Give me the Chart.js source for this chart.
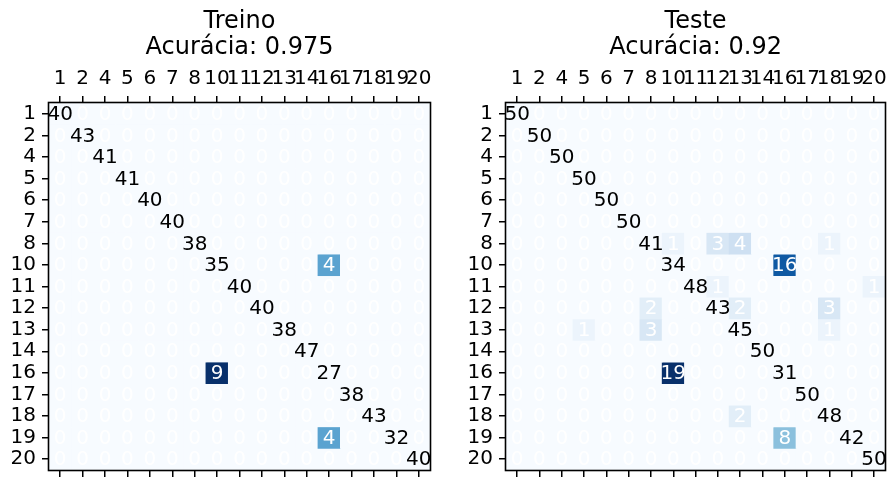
<!DOCTYPE html>
<html>
<head>
<meta charset="utf-8">
<script src="https://cdn.jsdelivr.net/npm/chart.js@4"></script>
<style>
  body { margin: 0; background: #fff; }
  #wrap { position: relative; width: 892px; height: 488px; }
  canvas { position: absolute; top: 0; }
  #treino-chart { left: 0; }
  #teste-chart { left: 446px; }
</style>
</head>
<body>
<div id="wrap">
  <canvas id="treino-chart" width="446" height="488"></canvas>
  <canvas id="teste-chart" width="446" height="488"></canvas>
</div>
<script>
const classes = ["1", "2", "4", "5", "6", "7", "8", "10", "11", "12", "13", "14", "16", "17", "18", "19", "20"];

// rows = true class, columns = predicted class
const treinoMatrix = [
  [40, 0, 0, 0, 0, 0, 0, 0, 0, 0, 0, 0, 0, 0, 0, 0, 0],
  [0, 43, 0, 0, 0, 0, 0, 0, 0, 0, 0, 0, 0, 0, 0, 0, 0],
  [0, 0, 41, 0, 0, 0, 0, 0, 0, 0, 0, 0, 0, 0, 0, 0, 0],
  [0, 0, 0, 41, 0, 0, 0, 0, 0, 0, 0, 0, 0, 0, 0, 0, 0],
  [0, 0, 0, 0, 40, 0, 0, 0, 0, 0, 0, 0, 0, 0, 0, 0, 0],
  [0, 0, 0, 0, 0, 40, 0, 0, 0, 0, 0, 0, 0, 0, 0, 0, 0],
  [0, 0, 0, 0, 0, 0, 38, 0, 0, 0, 0, 0, 0, 0, 0, 0, 0],
  [0, 0, 0, 0, 0, 0, 0, 35, 0, 0, 0, 0, 4, 0, 0, 0, 0],
  [0, 0, 0, 0, 0, 0, 0, 0, 40, 0, 0, 0, 0, 0, 0, 0, 0],
  [0, 0, 0, 0, 0, 0, 0, 0, 0, 40, 0, 0, 0, 0, 0, 0, 0],
  [0, 0, 0, 0, 0, 0, 0, 0, 0, 0, 38, 0, 0, 0, 0, 0, 0],
  [0, 0, 0, 0, 0, 0, 0, 0, 0, 0, 0, 47, 0, 0, 0, 0, 0],
  [0, 0, 0, 0, 0, 0, 0, 9, 0, 0, 0, 0, 27, 0, 0, 0, 0],
  [0, 0, 0, 0, 0, 0, 0, 0, 0, 0, 0, 0, 0, 38, 0, 0, 0],
  [0, 0, 0, 0, 0, 0, 0, 0, 0, 0, 0, 0, 0, 0, 43, 0, 0],
  [0, 0, 0, 0, 0, 0, 0, 0, 0, 0, 0, 0, 4, 0, 0, 32, 0],
  [0, 0, 0, 0, 0, 0, 0, 0, 0, 0, 0, 0, 0, 0, 0, 0, 40]
];

const testeMatrix = [
  [50, 0, 0, 0, 0, 0, 0, 0, 0, 0, 0, 0, 0, 0, 0, 0, 0],
  [0, 50, 0, 0, 0, 0, 0, 0, 0, 0, 0, 0, 0, 0, 0, 0, 0],
  [0, 0, 50, 0, 0, 0, 0, 0, 0, 0, 0, 0, 0, 0, 0, 0, 0],
  [0, 0, 0, 50, 0, 0, 0, 0, 0, 0, 0, 0, 0, 0, 0, 0, 0],
  [0, 0, 0, 0, 50, 0, 0, 0, 0, 0, 0, 0, 0, 0, 0, 0, 0],
  [0, 0, 0, 0, 0, 50, 0, 0, 0, 0, 0, 0, 0, 0, 0, 0, 0],
  [0, 0, 0, 0, 0, 0, 41, 1, 0, 3, 4, 0, 0, 0, 1, 0, 0],
  [0, 0, 0, 0, 0, 0, 0, 34, 0, 0, 0, 0, 16, 0, 0, 0, 0],
  [0, 0, 0, 0, 0, 0, 0, 0, 48, 1, 0, 0, 0, 0, 0, 0, 1],
  [0, 0, 0, 0, 0, 0, 2, 0, 0, 43, 2, 0, 0, 0, 3, 0, 0],
  [0, 0, 0, 1, 0, 0, 3, 0, 0, 0, 45, 0, 0, 0, 1, 0, 0],
  [0, 0, 0, 0, 0, 0, 0, 0, 0, 0, 0, 50, 0, 0, 0, 0, 0],
  [0, 0, 0, 0, 0, 0, 0, 19, 0, 0, 0, 0, 31, 0, 0, 0, 0],
  [0, 0, 0, 0, 0, 0, 0, 0, 0, 0, 0, 0, 0, 50, 0, 0, 0],
  [0, 0, 0, 0, 0, 0, 0, 0, 0, 0, 2, 0, 0, 0, 48, 0, 0],
  [0, 0, 0, 0, 0, 0, 0, 0, 0, 0, 0, 0, 8, 0, 0, 42, 0],
  [0, 0, 0, 0, 0, 0, 0, 0, 0, 0, 0, 0, 0, 0, 0, 0, 50]
];

Chart.defaults.font.family = "'DejaVu Sans', sans-serif";
Chart.defaults.color = "#000";

// matplotlib "Blues"
const bluesStops = ["#f7fbff", "#deebf7", "#c6dbef", "#9ecae1", "#6baed6", "#4292c6", "#2171b5", "#08519c", "#08306b"];

function hexToRgb(h) {
  return [parseInt(h.slice(1, 3), 16), parseInt(h.slice(3, 5), 16), parseInt(h.slice(5, 7), 16)];
}

function blues(t) {
  t = Math.max(0, Math.min(1, t));
  const pos = t * (bluesStops.length - 1);
  const i = Math.min(Math.floor(pos), bluesStops.length - 2);
  const f = pos - i;
  const a = hexToRgb(bluesStops[i]);
  const b = hexToRgb(bluesStops[i + 1]);
  const c = a.map((v, k) => Math.round(v + (b[k] - v) * f));
  return `rgb(${c[0]}, ${c[1]}, ${c[2]})`;
}

const cellText = {
  id: 'cellText',
  afterDatasetsDraw(chart, args, opts) {
    const ctx = chart.ctx;
    ctx.save();
    ctx.font = "20px 'DejaVu Sans'";
    ctx.textAlign = "center";
    ctx.textBaseline = "middle";
    chart.data.datasets.forEach((ds, i) => {
      chart.getDatasetMeta(i).data.forEach((bar, j) => {
        ctx.fillStyle = i === j ? "#000" : "#fff";
        ctx.fillText(String(opts.matrix[i][j]), bar.x, (bar.y + bar.base) / 2 + 1);
      });
    });
    ctx.restore();
  }
};

const frame = {
  id: 'frame',
  afterDraw(chart) {
    const a = chart.chartArea;
    const ctx = chart.ctx;
    ctx.save();
    ctx.strokeStyle = "#000";
    ctx.lineWidth = 1.6;
    ctx.strokeRect(Math.round(a.left) - 0.5, Math.round(a.top) - 0.5, Math.round(a.right - a.left) + 1, Math.round(a.bottom - a.top) + 1);
    ctx.restore();
  }
};

function makeMatrixChart(canvas, title, matrix, colorMax, leftWidth, rightPad) {
  const datasets = matrix.map((row, i) => ({
    label: classes[i],
    data: row.map(() => [i - 0.5, i + 0.5]),
    backgroundColor: row.map((v, j) => blues(i === j ? 0 : v / colorMax)),
    borderWidth: 0,
    grouped: false,
    categoryPercentage: 1,
    barPercentage: 1
  }));

  const tickGrid = {
    drawOnChartArea: false,
    drawTicks: true,
    tickLength: 7,
    color: "#000",
    lineWidth: 1.5,
    offset: false
  };

  return new Chart(canvas, {
    type: 'bar',
    data: { labels: classes, datasets: datasets },
    options: {
      responsive: false,
      animation: false,
      layout: { padding: { left: 0, right: rightPad, top: 0, bottom: 0 } },
      scales: {
        x: {
          type: 'category',
          position: 'top',
          offset: true,
          grid: tickGrid,
          border: { display: false },
          ticks: {
            autoSkip: false,
            maxRotation: 0,
            minRotation: 0,
            padding: 5,
            font: { size: 20 }
          },
          afterFit: s => { s.height = 36; }
        },
        x2: {
          type: 'category',
          position: 'bottom',
          labels: classes,
          offset: true,
          grid: tickGrid,
          border: { display: false },
          ticks: { display: false, autoSkip: false },
          afterFit: s => { s.height = 4; }
        },
        y: {
          type: 'linear',
          reverse: true,
          min: -0.5,
          max: 16.5,
          grid: tickGrid,
          border: { display: false },
          afterBuildTicks: s => { s.ticks = classes.map((c, i) => ({ value: i })); },
          ticks: {
            autoSkip: false,
            padding: 6,
            font: { size: 20 },
            callback: v => classes[v]
          },
          afterFit: s => { s.width = leftWidth; }
        }
      },
      plugins: {
        legend: { display: false },
        tooltip: { enabled: false },
        title: {
          display: true,
          text: title,
          fullSize: false,
          color: "#000",
          font: { size: 24, weight: 'normal', lineHeight: 26 / 24 },
          padding: { top: 9, bottom: 6 }
        },
        cellText: { matrix: matrix }
      }
    },
    plugins: [cellText, frame]
  });
}

const treinoChart = makeMatrixChart(
  document.getElementById("treino-chart"),
  ["Treino", "Acurácia: 0.975"],
  treinoMatrix, 7.3, 49, 16
);

const testeChart = makeMatrixChart(
  document.getElementById("teste-chart"),
  ["Teste", "Acurácia: 0.92"],
  testeMatrix, 19, 60, 5
);
</script>
</body>
</html>
